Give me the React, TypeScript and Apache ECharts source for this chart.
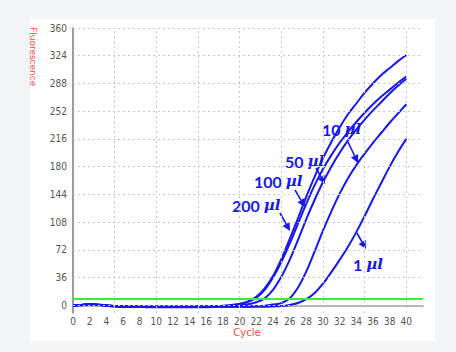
import React, { useEffect, useRef } from "react";
import * as echarts from "echarts";

const cycles = [0,1,2,3,4,5,6,7,8,9,10,11,12,13,14,15,16,17,18,19,20,21,22,23,24,25,26,27,28,29,30,31,32,33,34,35,36,37,38,39,40];

const s200 = [0,0.5,1.5,1,0,-1,-1.5,-1.5,-2,-2,-2,-2,-2,-2,-2,-1.5,-1.5,-1,-0.5,0.5,2,5,11,22,38,60,86,113,141,167,191,212,231,248,262,276,288,299,308,317,325];
const s100 = [-0.5,0,1,0.5,-0.5,-1.5,-2,-2,-2,-2,-2,-2,-2,-2,-2,-2,-2,-1.5,-1,0,1.5,4.5,10,20,36,56,80,106,132,156,177,195,211,225,238,250,261,271,280,289,297];
const s50 = [0,0.5,1,0.5,0,-1,-1.5,-1.5,-1.5,-2,-2,-2,-2,-2,-2,-2,-2,-2,-1.5,-0.5,0.5,1.5,4,9,20,37,59,85,112,137,160,180,198,214,228,241,253,264,275,285,294];
const s10 = [-0.5,0.5,1.5,1,-0.5,-1.5,-2,-2,-2,-2.5,-2.5,-2.5,-2.5,-2.5,-2.5,-2.5,-2.5,-2,-2,-2,-1.5,-1.5,-1,-0.5,1,3,9,23,44,70,97,122,145,165,182,197,211,224,237,249,261];
const s1 = [0,0.5,1,0.5,0,-1,-1.5,-2,-2,-2,-2,-2,-2,-2,-2,-2,-2,-2,-2,-2,-2,-2,-2,-2,-1.5,-1,0.5,3,8,16,28,43,59,76,95,116,138,159,180,199,216];

const yTickValues = [0,36,72,108,144,180,216,252,288,324,360];
const xTickValues = [0,2,4,6,8,10,12,14,16,18,20,22,24,26,28,30,32,34,36,38,40];
const xGridValues = [5,10,15,20,25,30,35,40];
const thresholdValue = 8;

const seriesList = [
  { name: "200 µl", values: s200 },
  { name: "100 µl", values: s100 },
  { name: "50 µl", values: s50 },
  { name: "10 µl", values: s10 },
  { name: "1 µl", values: s1 },
];

const BLUE = "#1717ee";
const TICK_FONT = "'Liberation Sans Narrow', 'DejaVu Sans Condensed', 'Arial Narrow', sans-serif";

function arrow(x1: number, y1: number, x2: number, y2: number) {
  const dx = x2 - x1, dy = y2 - y1;
  const len = Math.sqrt(dx * dx + dy * dy);
  const ux = dx / len, uy = dy / len;
  const hl = 8, hw = 4;
  const bx = x2 - ux * hl, by = y2 - uy * hl;
  return [
    { type: "line", shape: { x1, y1, x2: bx, y2: by }, style: { stroke: BLUE, lineWidth: 1.6 } },
    {
      type: "polygon",
      shape: { points: [[x2, y2], [bx - uy * hw, by + ux * hw], [bx + uy * hw, by - ux * hw]] },
      style: { fill: BLUE },
    },
  ];
}

function label(txt: string, x: number, y: number) {
  const parts = txt.split(" ");
  return {
    type: "text",
    x,
    y,
    style: {
      text: "{n|" + parts[0] + " }{u|" + parts[1] + "}",
      verticalAlign: "middle",
      align: "left",
      rich: {
        n: { fontFamily: "Lato, 'Open Sans', sans-serif", fontWeight: "bold", fontSize: 16, fill: BLUE },
        u: { fontFamily: "'DejaVu Serif', serif", fontStyle: "italic", fontWeight: "bold", fontSize: 15, fill: BLUE },
      },
    },
  };
}

export default function App() {
  const ref = useRef<HTMLDivElement>(null);
  useEffect(() => {
    if (!ref.current) return;
    const chart = echarts.init(ref.current, null, { renderer: "svg" });
    const gridStyle = { color: "#c9c9c9", width: 1, type: [2, 3] as any };
    const option: any = {
      animation: false,
      backgroundColor: "transparent",
      grid: { left: 73, right: 33, top: 28, bottom: 39, containLabel: false },
      xAxis: {
        type: "value",
        min: 0,
        max: 42,
        interval: 2,
        axisLine: { show: true, lineStyle: { color: "#9a9a9a", width: 1.5 } },
        axisTick: { show: false },
        splitLine: { show: false },
        axisLabel: {
          show: true,
          customValues: xTickValues,
          margin: 3,
          color: "#555",
          fontSize: 10,
          fontFamily: TICK_FONT,
        },
      },
      yAxis: {
        type: "value",
        min: -10,
        max: 360,
        axisLine: { show: true, lineStyle: { color: "#7a7a7a", width: 1.5 } },
        axisTick: { show: false },
        splitLine: { show: false },
        axisLabel: {
          show: true,
          customValues: yTickValues,
          margin: 6,
          color: "#555",
          fontSize: 10,
          fontFamily: TICK_FONT,
        },
      },
      series: [
        {
          type: "line",
          name: "grid",
          data: [],
          silent: true,
          markLine: {
            silent: true,
            symbol: ["none", "none"],
            label: { show: false },
            lineStyle: gridStyle,
            data: [
              ...yTickValues.map((v) => ({ yAxis: v })),
              ...xGridValues.map((v) => ({ xAxis: v })),
            ],
          },
        },
        {
          type: "line",
          name: "threshold",
          data: [],
          silent: true,
          markLine: {
            silent: true,
            symbol: ["none", "none"],
            label: { show: false },
            lineStyle: { color: "#3cec3c", width: 2, type: "solid" },
            data: [{ yAxis: thresholdValue }],
          },
        },
        ...seriesList.map((s) => ({
          type: "line",
          name: s.name,
          data: cycles.map((c, i) => [c, s.values[i]]),
          showSymbol: false,
          smooth: 0.35,
          clip: false,
          lineStyle: { color: BLUE, width: 2 },
          itemStyle: { color: BLUE },
        })),
      ],
      graphic: [
        {
          type: "rect",
          z: -10,
          silent: true,
          shape: { x: 30, y: 19, width: 405, height: 322 },
          style: { fill: "#ffffff" },
        },
        {
          type: "text",
          x: 33,
          y: 27,
          rotation: -Math.PI / 2,
          style: {
            text: "Fluorescence",
            fill: "#ff4b4b",
            fontSize: 9,
            fontFamily: "'DejaVu Sans', sans-serif",
            align: "left",
            verticalAlign: "middle",
          },
        },
        {
          type: "text",
          x: 247,
          y: 332,
          style: {
            text: "Cycle",
            fill: "#ff4b4b",
            fontSize: 10,
            fontFamily: "'DejaVu Sans', sans-serif",
            align: "center",
            verticalAlign: "middle",
          },
        },
        label("10 µl", 322, 129),
        label("50 µl", 285, 161),
        label("100 µl", 254, 181),
        label("200 µl", 232, 205),
        label("1 µl", 353, 264),
        ...arrow(348, 142, 358, 163),
        ...arrow(316, 168, 325, 184),
        ...arrow(295, 190, 305, 207),
        ...arrow(280, 213, 290, 231),
        ...arrow(357, 233, 366, 249),
      ],
    };
    chart.setOption(option);
    return () => chart.dispose();
  }, []);
  return (
    <div style={{ position: "fixed", left: 0, top: 0, width: 456, height: 352, background: "#f4f5f7" }}>
      <div ref={ref} style={{ width: 456, height: 352 }} />
    </div>
  );
}
